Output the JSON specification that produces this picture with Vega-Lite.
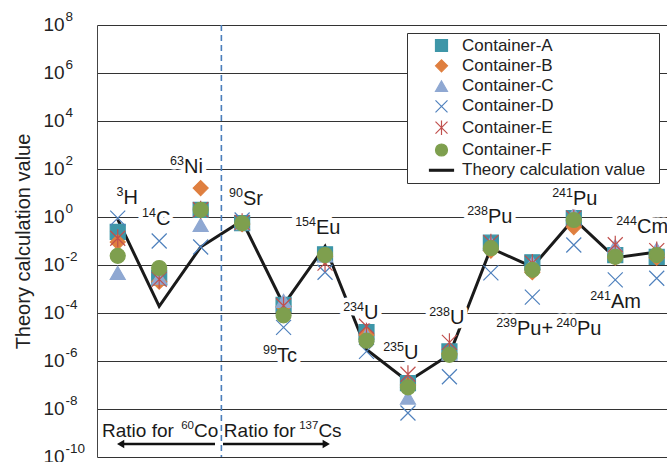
{
  "$schema": "https://vega.github.io/schema/vega-lite/v6.json",
  "width": 570,
  "height": 432,
  "autosize": {"type": "none"},
  "padding": {"left": 97, "top": 25, "right": 0, "bottom": 5},
  "background": "white",
  "config": {
    "view": {"stroke": null},
    "font": "Liberation Sans",
    "legend": {
      "labelFont": "Liberation Sans",
      "labelFontSize": 17,
      "labelColor": "#222222",
      "labelLimit": 320,
      "symbolSize": 144,
      "symbolStrokeWidth": 1.2,
      "padding": 4,
      "rowPadding": 2.3,
      "strokeColor": "#333333",
      "fillColor": "white",
      "symbolOffset": 22,
      "labelOffset": 12,
      "titleOrient": "right",
      "titlePadding": 10,
      "titleFontSize": 17
    }
  },
  "datasets": {
    "meas": [
      {"nuclide": "3H", "x": 1, "s": "Container-A", "v": 0.24},
      {"nuclide": "14C", "x": 2, "s": "Container-A", "v": 0.003},
      {"nuclide": "63Ni", "x": 3, "s": "Container-A", "v": 2.0},
      {"nuclide": "90Sr", "x": 4, "s": "Container-A", "v": 0.56},
      {"nuclide": "99Tc", "x": 5, "s": "Container-A", "v": 0.00022},
      {"nuclide": "154Eu", "x": 6, "s": "Container-A", "v": 0.028},
      {"nuclide": "234U", "x": 7, "s": "Container-A", "v": 1.6e-5},
      {"nuclide": "235U", "x": 8, "s": "Container-A", "v": 1.2e-7},
      {"nuclide": "238U", "x": 9, "s": "Container-A", "v": 2.5e-6},
      {"nuclide": "238Pu", "x": 10, "s": "Container-A", "v": 0.085},
      {"nuclide": "239Pu+240Pu", "x": 11, "s": "Container-A", "v": 0.013},
      {"nuclide": "241Pu", "x": 12, "s": "Container-A", "v": 0.9},
      {"nuclide": "241Am", "x": 13, "s": "Container-A", "v": 0.026},
      {"nuclide": "244Cm", "x": 14, "s": "Container-A", "v": 0.022},
      {"nuclide": "3H", "x": 1, "s": "Container-B", "v": 0.09},
      {"nuclide": "14C", "x": 2, "s": "Container-B", "v": 0.002},
      {"nuclide": "63Ni", "x": 3, "s": "Container-B", "v": 16},
      {"nuclide": "90Sr", "x": 4, "s": "Container-B", "v": 0.5},
      {"nuclide": "99Tc", "x": 5, "s": "Container-B", "v": 0.00018},
      {"nuclide": "154Eu", "x": 6, "s": "Container-B", "v": 0.022},
      {"nuclide": "234U", "x": 7, "s": "Container-B", "v": 1.2e-5},
      {"nuclide": "235U", "x": 8, "s": "Container-B", "v": 1.0e-7},
      {"nuclide": "238U", "x": 9, "s": "Container-B", "v": 2.0e-6},
      {"nuclide": "238Pu", "x": 10, "s": "Container-B", "v": 0.04},
      {"nuclide": "239Pu+240Pu", "x": 11, "s": "Container-B", "v": 0.005},
      {"nuclide": "241Pu", "x": 12, "s": "Container-B", "v": 0.38},
      {"nuclide": "241Am", "x": 13, "s": "Container-B", "v": 0.02},
      {"nuclide": "244Cm", "x": 14, "s": "Container-B", "v": 0.02},
      {"nuclide": "3H", "x": 1, "s": "Container-C", "v": 0.0047},
      {"nuclide": "14C", "x": 2, "s": "Container-C", "v": 0.003},
      {"nuclide": "63Ni", "x": 3, "s": "Container-C", "v": 0.47},
      {"nuclide": "90Sr", "x": 4, "s": "Container-C", "v": 0.55},
      {"nuclide": "99Tc", "x": 5, "s": "Container-C", "v": 0.00032},
      {"nuclide": "154Eu", "x": 6, "s": "Container-C", "v": 0.025},
      {"nuclide": "234U", "x": 7, "s": "Container-C", "v": 1.2e-5},
      {"nuclide": "235U", "x": 8, "s": "Container-C", "v": 3.0e-8},
      {"nuclide": "238U", "x": 9, "s": "Container-C", "v": 2.0e-6},
      {"nuclide": "238Pu", "x": 10, "s": "Container-C", "v": 0.08},
      {"nuclide": "239Pu+240Pu", "x": 11, "s": "Container-C", "v": 0.012},
      {"nuclide": "241Pu", "x": 12, "s": "Container-C", "v": 1.3},
      {"nuclide": "241Am", "x": 13, "s": "Container-C", "v": 0.06},
      {"nuclide": "244Cm", "x": 14, "s": "Container-C", "v": 0.045},
      {"nuclide": "3H", "x": 1, "s": "Container-D", "v": 0.9},
      {"nuclide": "14C", "x": 2, "s": "Container-D", "v": 0.1},
      {"nuclide": "63Ni", "x": 3, "s": "Container-D", "v": 0.056},
      {"nuclide": "90Sr", "x": 4, "s": "Container-D", "v": 0.75},
      {"nuclide": "99Tc", "x": 5, "s": "Container-D", "v": 2.5e-5},
      {"nuclide": "154Eu", "x": 6, "s": "Container-D", "v": 0.005},
      {"nuclide": "234U", "x": 7, "s": "Container-D", "v": 2.5e-6},
      {"nuclide": "235U", "x": 8, "s": "Container-D", "v": 6.8e-9},
      {"nuclide": "238U", "x": 9, "s": "Container-D", "v": 2.2e-7},
      {"nuclide": "238Pu", "x": 10, "s": "Container-D", "v": 0.0047},
      {"nuclide": "239Pu+240Pu", "x": 11, "s": "Container-D", "v": 0.00046},
      {"nuclide": "241Pu", "x": 12, "s": "Container-D", "v": 0.068},
      {"nuclide": "241Am", "x": 13, "s": "Container-D", "v": 0.0024},
      {"nuclide": "244Cm", "x": 14, "s": "Container-D", "v": 0.0028},
      {"nuclide": "3H", "x": 1, "s": "Container-E", "v": 0.13},
      {"nuclide": "14C", "x": 2, "s": "Container-E", "v": 0.0025},
      {"nuclide": "63Ni", "x": 3, "s": "Container-E", "v": 2.0},
      {"nuclide": "90Sr", "x": 4, "s": "Container-E", "v": 0.6},
      {"nuclide": "99Tc", "x": 5, "s": "Container-E", "v": 0.0002},
      {"nuclide": "154Eu", "x": 6, "s": "Container-E", "v": 0.012},
      {"nuclide": "234U", "x": 7, "s": "Container-E", "v": 2.8e-5},
      {"nuclide": "235U", "x": 8, "s": "Container-E", "v": 2.8e-7},
      {"nuclide": "238U", "x": 9, "s": "Container-E", "v": 6.0e-6},
      {"nuclide": "238Pu", "x": 10, "s": "Container-E", "v": 0.085},
      {"nuclide": "239Pu+240Pu", "x": 11, "s": "Container-E", "v": 0.012},
      {"nuclide": "241Pu", "x": 12, "s": "Container-E", "v": 0.9},
      {"nuclide": "241Am", "x": 13, "s": "Container-E", "v": 0.07},
      {"nuclide": "244Cm", "x": 14, "s": "Container-E", "v": 0.04},
      {"nuclide": "3H", "x": 1, "s": "Container-F", "v": 0.024},
      {"nuclide": "14C", "x": 2, "s": "Container-F", "v": 0.0075},
      {"nuclide": "63Ni", "x": 3, "s": "Container-F", "v": 2.0},
      {"nuclide": "90Sr", "x": 4, "s": "Container-F", "v": 0.55},
      {"nuclide": "99Tc", "x": 5, "s": "Container-F", "v": 8e-5},
      {"nuclide": "154Eu", "x": 6, "s": "Container-F", "v": 0.026},
      {"nuclide": "234U", "x": 7, "s": "Container-F", "v": 7e-6},
      {"nuclide": "235U", "x": 8, "s": "Container-F", "v": 8e-8},
      {"nuclide": "238U", "x": 9, "s": "Container-F", "v": 1.8e-6},
      {"nuclide": "238Pu", "x": 10, "s": "Container-F", "v": 0.05},
      {"nuclide": "239Pu+240Pu", "x": 11, "s": "Container-F", "v": 0.0063},
      {"nuclide": "241Pu", "x": 12, "s": "Container-F", "v": 0.75},
      {"nuclide": "241Am", "x": 13, "s": "Container-F", "v": 0.022},
      {"nuclide": "244Cm", "x": 14, "s": "Container-F", "v": 0.026}
    ],
    "theory": [
      {"nuclide": "3H", "x": 1, "v": 0.8},
      {"nuclide": "14C", "x": 2, "v": 0.00019},
      {"nuclide": "63Ni", "x": 3, "v": 0.056},
      {"nuclide": "90Sr", "x": 4, "v": 0.7},
      {"nuclide": "99Tc", "x": 5, "v": 0.00022},
      {"nuclide": "154Eu", "x": 6, "v": 0.06},
      {"nuclide": "234U", "x": 7, "v": 3e-6},
      {"nuclide": "235U", "x": 8, "v": 1.4e-7},
      {"nuclide": "238U", "x": 9, "v": 1.8e-6},
      {"nuclide": "238Pu", "x": 10, "v": 0.05},
      {"nuclide": "239Pu+240Pu", "x": 11, "v": 0.0083},
      {"nuclide": "241Pu", "x": 12, "v": 0.83},
      {"nuclide": "241Am", "x": 13, "v": 0.02},
      {"nuclide": "244Cm", "x": 14, "v": 0.035}
    ],
    "labelBase": [
      {"t": "H", "x": 1.139, "v": 3.48},
      {"t": "C", "x": 1.923, "v": 0.464},
      {"t": "Ni", "x": 2.598, "v": 68.1},
      {"t": "Sr", "x": 4.021, "v": 3.16},
      {"t": "Tc", "x": 4.841, "v": 9.1e-7},
      {"t": "Eu", "x": 5.782, "v": 0.187},
      {"t": "U", "x": 6.94, "v": 5.6e-5},
      {"t": "U", "x": 7.905, "v": 1.21e-6},
      {"t": "U", "x": 9.014, "v": 3.6e-5},
      {"t": "Pu", "x": 9.931, "v": 0.562},
      {"t": "Pu", "x": 11.981, "v": 3.16},
      {"t": "Am", "x": 12.898, "v": 0.000162},
      {"t": "Pu+", "x": 10.63, "v": 1.21e-5},
      {"t": "Pu", "x": 12.077, "v": 1.21e-5},
      {"t": "Cm", "x": 13.525, "v": 0.215}
    ],
    "labelSup": [
      {"t": "3", "x": 1.139, "v": 3.48},
      {"t": "14", "x": 1.923, "v": 0.464},
      {"t": "63", "x": 2.598, "v": 68.1},
      {"t": "90", "x": 4.021, "v": 3.16},
      {"t": "99", "x": 4.841, "v": 9.1e-7},
      {"t": "154", "x": 5.782, "v": 0.187},
      {"t": "234", "x": 6.94, "v": 5.6e-5},
      {"t": "235", "x": 7.905, "v": 1.21e-6},
      {"t": "238", "x": 9.014, "v": 3.6e-5},
      {"t": "238", "x": 9.931, "v": 0.562},
      {"t": "241", "x": 11.981, "v": 3.16},
      {"t": "241", "x": 12.898, "v": 0.000162},
      {"t": "239", "x": 10.63, "v": 1.21e-5},
      {"t": "240", "x": 12.077, "v": 1.21e-5},
      {"t": "244", "x": 13.525, "v": 0.215}
    ],
    "noteBase": [
      {"t": "Ratio for", "x": 0.621, "v": 6.8e-10},
      {"t": "Co", "x": 2.84, "v": 6.8e-10},
      {"t": "Ratio for", "x": 3.56, "v": 6.8e-10},
      {"t": "Cs", "x": 5.84, "v": 6.8e-10}
    ],
    "noteSup": [
      {"t": "60", "x": 2.84, "v": 6.8e-10},
      {"t": "137", "x": 5.84, "v": 6.8e-10}
    ],
    "arrows": [
      {"x": 1.07, "x2": 3.346, "v": 3.48e-10},
      {"x": 3.539, "x2": 6.03, "v": 3.48e-10}
    ],
    "divider": [
      {"x": 3.5, "v": 1e8, "v2": 1e-10}
    ]
  },
  "layer": [
    {
      "encoding": {
        "x": {"field": "x", "type": "quantitative", "scale": {"domain": [0.5, 14.248], "nice": false, "zero": false}, "axis": null},
        "y": {
          "field": "v",
          "type": "quantitative",
          "scale": {"type": "log", "domain": [1e-10, 1e8], "nice": false},
          "axis": {
            "orient": "left",
            "title": "Theory calculation value",
            "values": [1e-10, 1e-8, 1e-6, 1e-4, 1e-2, 1, 100, 10000, 1000000, 100000000],
            "labelExpr": "'10'",
            "grid": true,
            "gridColor": "#333333",
            "gridWidth": 1,
            "gridOpacity": 1,
            "ticks": false,
            "domainColor": "#444444",
            "domainWidth": 1,
            "labelAlign": "left",
            "labelPadding": 54,
            "labelOffset": -1,
            "labelFontSize": 19,
            "labelColor": "#222222",
            "labelFont": "Liberation Sans",
            "labelFlush": false,
            "labelOverlap": false,
            "titleFont": "Liberation Sans",
            "titleFontSize": 20,
            "titleFontWeight": "normal",
            "titleColor": "#222222",
            "titlePadding": 10
          }
        }
      },
      "layer": [
        {
          "data": {"name": "theory"},
          "mark": {"type": "line", "color": "#1a1a1a", "strokeWidth": 3},
          "encoding": {}
        },
        {
          "data": {"name": "meas"},
          "mark": {"type": "point", "filled": true, "size": 225, "strokeWidth": 1.2, "opacity": 1},
          "encoding": {
            "shape": {
              "field": "s", "type": "nominal",
              "scale": {
                "domain": ["Container-A", "Container-B", "Container-C", "Container-D", "Container-E", "Container-F", "Theory calculation value"],
                "range": ["square", "diamond", "triangle-up", "M-1,-1L1,1M-1,1L1,-1", "M-1,-1L1,1M-1,1L1,-1M0,-1.2L0,1.2", "circle", "M-2,-0.15L2,-0.15L2,0.15L-2,0.15Z"]
              },
              "legend": {"title": "  ", "orient": "none", "legendX": 310, "legendY": 8}
            },
            "fill": {
              "field": "s", "type": "nominal",
              "scale": {
                "domain": ["Container-A", "Container-B", "Container-C", "Container-D", "Container-E", "Container-F", "Theory calculation value"],
                "range": ["#3E96A8", "#DF7F3F", "#8FA8D2", "transparent", "transparent", "#7E9F4E", "#1a1a1a"]
              },
              "legend": {"title": "  ", "orient": "none", "legendX": 310, "legendY": 8}
            },
            "stroke": {
              "field": "s", "type": "nominal",
              "scale": {
                "domain": ["Container-A", "Container-B", "Container-C", "Container-D", "Container-E", "Container-F", "Theory calculation value"],
                "range": ["#3E96A8", "#DF7F3F", "#8FA8D2", "#4F81BD", "#C0504D", "#7E9F4E", "#1a1a1a"]
              },
              "legend": {"title": "  ", "orient": "none", "legendX": 310, "legendY": 8}
            }
          }
        },
        {
          "data": {"name": "arrows"},
          "mark": {"type": "rule", "color": "#111111", "strokeWidth": 2.5},
          "encoding": {"x2": {"field": "x2"}}
        },
        {
          "data": {"values": [{"x": 1.07, "v": 3.48e-10}]},
          "mark": {"type": "point", "shape": "triangle-left", "filled": true, "size": 70, "color": "#111111", "opacity": 1}
        },
        {
          "data": {"values": [{"x": 6.03, "v": 3.48e-10}]},
          "mark": {"type": "point", "shape": "triangle-right", "filled": true, "size": 70, "color": "#111111", "opacity": 1}
        },
        {
          "data": {"name": "labelSup"},
          "mark": {"type": "text", "font": "Liberation Sans", "fontSize": 12.5, "baseline": "alphabetic", "align": "right", "dy": -8, "stroke": "white", "strokeWidth": 9, "strokeJoin": "round", "fill": "white"},
          "encoding": {"text": {"field": "t"}}
        },
        {
          "data": {"name": "labelBase"},
          "mark": {"type": "text", "font": "Liberation Sans", "fontSize": 20, "baseline": "alphabetic", "align": "left", "stroke": "white", "strokeWidth": 9, "strokeJoin": "round", "fill": "white"},
          "encoding": {"text": {"field": "t"}}
        },
        {
          "data": {"name": "labelSup"},
          "mark": {"type": "text", "font": "Liberation Sans", "fontSize": 12.5, "baseline": "alphabetic", "align": "right", "dy": -8, "fill": "#1a1a1a"},
          "encoding": {"text": {"field": "t"}}
        },
        {
          "data": {"name": "labelBase"},
          "mark": {"type": "text", "font": "Liberation Sans", "fontSize": 20, "baseline": "alphabetic", "align": "left", "fill": "#1a1a1a"},
          "encoding": {"text": {"field": "t"}}
        },
        {
          "data": {"name": "noteSup"},
          "mark": {"type": "text", "font": "Liberation Sans", "fontSize": 11.5, "baseline": "alphabetic", "align": "right", "dy": -8, "fill": "#1a1a1a"},
          "encoding": {"text": {"field": "t"}}
        },
        {
          "data": {"name": "noteBase"},
          "mark": {"type": "text", "font": "Liberation Sans", "fontSize": 19, "baseline": "alphabetic", "align": "left", "fill": "#1a1a1a"},
          "encoding": {"text": {"field": "t"}}
        }
      ]
    },
    {
      "data": {"name": "divider"},
      "mark": {"type": "rule", "color": "#4A7EBB", "strokeDash": [6, 4], "strokeWidth": 1.6},
      "encoding": {
        "x": {"field": "x", "type": "quantitative", "scale": {"domain": [0.5, 14.248], "nice": false, "zero": false}, "axis": null},
        "y": {
          "field": "v",
          "type": "quantitative",
          "scale": {"type": "log", "domain": [1e-10, 1e8], "nice": false},
          "axis": {
            "orient": "left",
            "title": null,
            "values": [1e-10, 1e-8, 1e-6, 1e-4, 1e-2, 1, 100, 10000, 1000000, 100000000],
            "labelExpr": "['-10','-8','-6','-4','-2','0','2','4','6','8'][round((log(datum.value)/LN10+10)/2)]",
            "grid": false,
            "ticks": false,
            "domain": false,
            "labelAlign": "left",
            "labelPadding": 32,
            "labelOffset": -9,
            "labelFontSize": 13.5,
            "labelColor": "#222222",
            "labelFont": "Liberation Sans",
            "labelFlush": false,
            "labelOverlap": false
          }
        },
        "y2": {"field": "v2"}
      }
    }
  ],
  "resolve": {"scale": {"y": "independent"}, "axis": {"y": "independent"}}
}
